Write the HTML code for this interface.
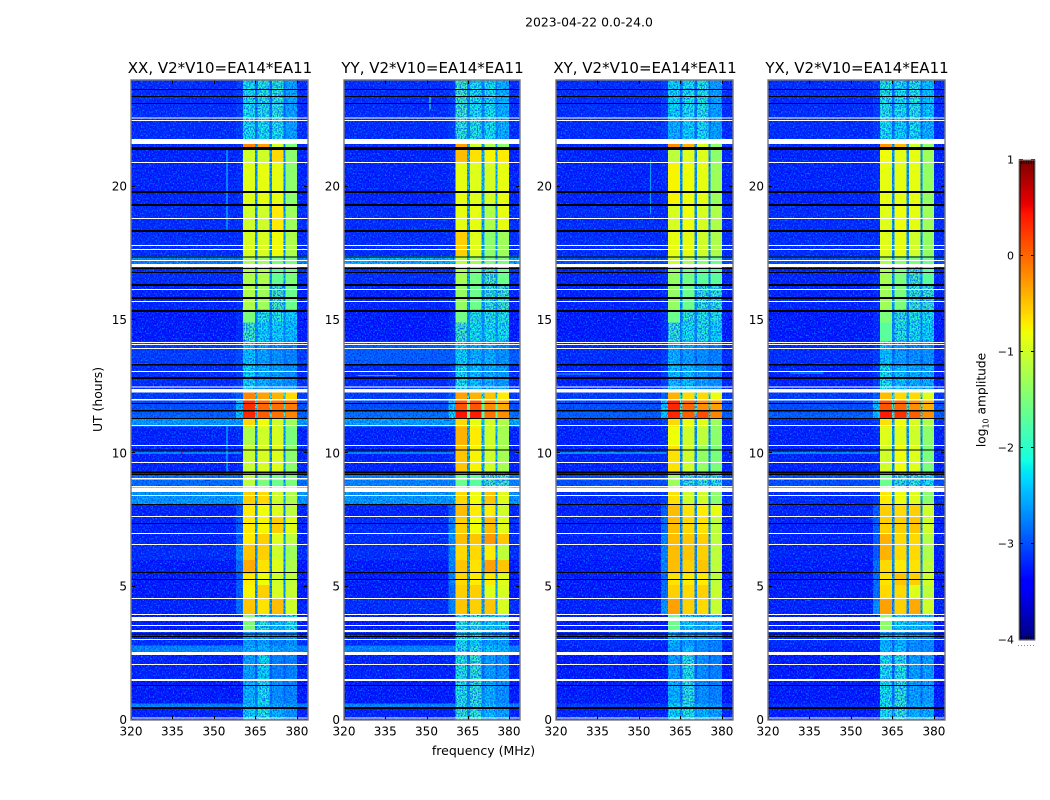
<!DOCTYPE html>
<html>
<head>
<meta charset="utf-8">
<title>2023-04-22 0.0-24.0</title>
<style>
html,body{margin:0;padding:0;background:#fff;}
svg{display:block;}
text{font-family:"DejaVu Sans","Liberation Sans",sans-serif;fill:#000;}
</style>
</head>
<body>
<svg id="fig" xmlns="http://www.w3.org/2000/svg" width="1050" height="800" viewBox="0 0 1050 800">
<defs>
<filter id="grain" x="0" y="0" width="1" height="1" filterUnits="objectBoundingBox" color-interpolation-filters="sRGB">
<feTurbulence type="fractalNoise" baseFrequency="0.75 0.6" numOctaves="1" seed="7" result="n"/>
<feColorMatrix in="n" type="matrix" values="0 0 0 0 0  0 0 0 0 0.55  0 0 0 0 1  3 0 0 0 -1.4" result="lite"/>
<feColorMatrix in="n" type="matrix" values="0 0 0 0 0  0 0 0 0 0  0 0 0 0 0.9  0 2.5 0 0 -1.2" result="dark"/>
<feComposite in="lite" in2="SourceAlpha" operator="in" result="liteIn"/>
<feComposite in="dark" in2="SourceAlpha" operator="in" result="darkIn"/>
<feMerge><feMergeNode in="SourceGraphic"/><feMergeNode in="liteIn"/><feMergeNode in="darkIn"/></feMerge>
</filter>
<filter id="grainMid" x="0" y="0" width="1" height="1" filterUnits="objectBoundingBox" color-interpolation-filters="sRGB">
<feTurbulence type="fractalNoise" baseFrequency="0.75 0.6" numOctaves="1" seed="11" result="n"/>
<feColorMatrix in="n" type="matrix" values="0 0 0 0 0.1  0 0 0 0 1  0 0 0 0 0.9  1.8 0 0 0 -0.9" result="lite"/>
<feColorMatrix in="n" type="matrix" values="0 0 0 0 0  0 0 0 0 0.3  0 0 0 0 1  0 3 0 0 -1.15" result="dark"/>
<feComposite in="lite" in2="SourceAlpha" operator="in" result="liteIn"/>
<feComposite in="dark" in2="SourceAlpha" operator="in" result="darkIn"/>
<feMerge><feMergeNode in="SourceGraphic"/><feMergeNode in="darkIn"/><feMergeNode in="liteIn"/></feMerge>
</filter>
</defs>
<text x="589" y="26.5" font-size="12.4" text-anchor="middle">2023-04-22 0.0-24.0</text>
<text x="483.5" y="755" font-size="12.5" text-anchor="middle">frequency (MHz)</text>
<text transform="translate(102,399.5) rotate(-90)" font-size="12.4" text-anchor="middle">UT (hours)</text>
<text transform="translate(985.5,400) rotate(-90)" font-size="12.2" text-anchor="middle">log<tspan font-size="8" dy="3">10</tspan><tspan dy="-3"> amplitude</tspan></text>
<g id="panels"></g>
<g id="cbar"></g>
</svg>
<script>
// ---- chart data ----
const panelNames = ["XX", "YY", "XY", "YX"];
const panelSuffix = ", V2*V10=EA14*EA11";
const xTicks = [320, 335, 350, 365, 380];
const yTicks = [0, 5, 10, 15, 20];
const cbTicks = [1, 0, -1, -2, -3, -4];
// frequency channel-group edges (MHz)
const freqEdges = [320, 358, 360.5, 364.8, 365.8, 370, 371, 375.1, 375.8, 380, 384];
// which value of a row each frequency group uses: bg, fringe, b1, gap, b2, gap, b3, gap, b4, bg
const groupOfColumn = [0, 1, 2, 6, 3, 6, 4, 6, 5, 0];
// UT segment edges (hours)
const timeEdges = [0,.48,.62,1.5,2.44,2.8,3.3,3.95,4.54,5.06,5.5,6,6.56,7,7.6,8.06,8.75,9.3,10.3,11,11.3,11.6,12,12.3,13.3,14.2,14.9,15.4,16.35,17,17.4,18.3,19.3,20.9,21.4,21.6,22.5,24];
// log10 amplitude per UT segment: [bg, fringe, band1, band2, band3, band4, gap]
const valuesXX = [
[-3.25,-3.25,-2.2,-2.0,-2.4,-2.6,-2.6],[-2.7,-2.7,-2.3,-2.2,-2.4,-2.5,-2.5],[-3.3,-3.3,-2.4,-2.1,-2.6,-2.7,-2.8],[-3.25,-3.25,-2.5,-2.2,-2.7,-2.7,-2.9],
[-2.7,-2.7,-2.4,-2.4,-2.5,-2.5,-2.6],[-3.2,-3.2,-2.5,-2.5,-2.7,-2.6,-2.8],[-3.3,-3.3,-1.5,-2.0,-2.3,-2.1,-2.5],[-3.25,-2.8,-0.5,-0.65,-0.45,-1.0,-2.6],
[-3.3,-2.9,-0.75,-0.55,-0.95,-1.05,-2.6],[-3.3,-2.9,-0.7,-0.8,-1.0,-1.1,-2.6],[-3.3,-2.8,-0.35,-0.65,-0.9,-1.2,-2.6],[-3.2,-2.7,-0.5,-0.55,-1.0,-1.3,-2.6],
[-3.25,-2.9,-0.7,-0.55,-0.9,-1.1,-2.6],[-3.25,-2.9,-0.7,-0.75,-0.55,-0.9,-2.5],[-3.25,-3.0,-0.7,-0.8,-0.9,-1.1,-2.6],[-2.55,-2.5,-0.55,-0.6,-1.0,-1.2,-2.4],
[-2.8,-2.8,-1.1,-1.5,-1.6,-1.5,-2.5],[-3.25,-3.2,-1.05,-0.95,-0.9,-1.4,-2.6],[-3.25,-3.2,-1.2,-1.0,-0.95,-1.5,-2.6],[-2.55,-2.5,-0.6,-0.8,-1.0,-1.3,-2.4],
[-2.9,-2.3,0.35,0.05,-0.05,-0.15,-1.8],[-3.0,-2.4,0.3,0.0,-0.05,-0.1,-1.8],[-3.1,-2.9,-0.15,-0.3,-0.4,-0.6,-2.0],[-3.2,-3.1,-2.2,-2.4,-2.5,-2.6,-2.7],
[-3.1,-3.0,-2.3,-2.5,-2.6,-2.7,-2.8],[-3.3,-3.2,-1.8,-2.2,-2.2,-2.3,-2.7],[-3.3,-3.2,-1.5,-2.0,-2.0,-2.2,-2.7],[-3.25,-3.2,-1.2,-1.3,-1.75,-1.6,-2.6],
[-3.2,-3.2,-1.2,-1.2,-1.65,-1.5,-2.5],[-2.7,-2.7,-1.2,-1.3,-1.5,-1.5,-2.3],[-3.2,-3.2,-0.95,-0.95,-0.8,-1.2,-2.6],[-3.2,-3.2,-1.0,-1.0,-0.7,-1.3,-2.6],
[-3.25,-3.2,-0.9,-0.85,-0.85,-1.4,-2.6],[-3.25,-3.2,-1.0,-1.0,-0.6,-1.4,-2.6],[-3.2,-3.2,-0.15,-0.3,-1.0,-1.5,-2.6],[-3.2,-3.1,-2.1,-2.1,-2.05,-2.5,-2.8],
[-3.2,-3.1,-2.1,-2.0,-1.95,-2.5,-2.8]];
const valuesYY = [
[-3.25,-3.25,-1.9,-1.9,-2.3,-2.5,-2.6],[-2.7,-2.7,-2.0,-2.0,-2.3,-2.5,-2.5],[-3.3,-3.3,-2.0,-1.9,-2.4,-2.6,-2.7],[-3.25,-3.25,-2.0,-1.9,-2.5,-2.6,-2.8],
[-2.7,-2.7,-2.0,-2.0,-2.3,-2.4,-2.5],[-3.2,-3.2,-2.1,-2.2,-2.5,-2.5,-2.7],[-3.3,-3.3,-2.0,-1.9,-2.2,-2.2,-2.5],[-3.2,-2.7,-0.5,-0.55,-0.5,-0.95,-2.5],
[-3.3,-2.8,-0.55,-0.55,-0.9,-0.95,-2.5],[-3.3,-2.7,-0.6,-0.7,-0.7,-0.9,-2.5],[-3.3,-2.7,-0.5,-0.65,-0.3,-0.5,-2.5],[-3.2,-2.7,-0.6,-0.6,-0.7,-1.1,-2.5],
[-3.2,-2.6,-0.45,-0.5,-0.25,-0.5,-2.5],[-3.2,-2.7,-0.55,-0.8,-0.45,-0.9,-2.5],[-3.25,-2.9,-0.45,-0.7,-0.7,-1.0,-2.5],[-2.55,-2.5,-0.6,-0.8,-0.5,-0.9,-2.4],
[-2.7,-2.7,-1.6,-1.7,-1.8,-1.8,-2.4],[-3.25,-3.2,-0.5,-0.75,-1.0,-1.25,-2.4],[-3.25,-3.2,-0.4,-0.7,-1.0,-1.25,-2.4],[-2.5,-2.5,-0.6,-0.85,-1.0,-1.2,-2.3],
[-2.8,-2.2,0.45,0.4,-0.05,-0.2,-1.7],[-3.0,-2.3,0.1,0.1,-0.2,-0.35,-1.7],[-3.1,-2.9,-0.3,-0.4,-0.5,-0.7,-2.0],[-3.2,-3.1,-2.1,-2.3,-2.4,-2.5,-2.7],
[-2.9,-2.9,-2.2,-2.4,-2.4,-2.6,-2.7],[-3.3,-3.2,-1.8,-2.1,-2.1,-2.1,-2.6],[-3.3,-3.2,-1.55,-2.0,-2.0,-2.0,-2.6],[-3.25,-3.2,-1.35,-1.6,-1.9,-1.8,-2.6],
[-3.2,-3.2,-1.25,-1.55,-1.75,-1.6,-2.5],[-2.4,-2.4,-1.1,-1.3,-1.5,-1.5,-2.2],[-3.2,-3.2,-0.55,-0.9,-1.4,-1.3,-2.5],[-3.2,-3.2,-0.85,-0.85,-1.2,-0.85,-2.5],
[-3.25,-3.2,-0.85,-0.9,-0.95,-0.85,-2.4],[-3.25,-3.2,-0.45,-0.65,-0.75,-0.7,-2.4],[-3.2,-3.2,-0.3,-1.0,-1.2,-1.4,-2.5],[-3.2,-3.1,-1.9,-2.0,-2.1,-2.4,-2.7],
[-3.2,-3.1,-1.8,-2.1,-2.1,-2.4,-2.7]];
const valuesXY = [
[-3.25,-3.25,-2.2,-2.0,-2.4,-2.5,-2.6],[-3.1,-3.1,-2.2,-2.0,-2.4,-2.5,-2.6],[-3.3,-3.3,-2.4,-1.95,-2.6,-2.7,-2.8],[-3.3,-3.3,-2.5,-2.0,-2.6,-2.7,-2.9],
[-3.25,-3.25,-2.5,-2.3,-2.6,-2.7,-2.8],[-3.2,-3.2,-2.4,-2.5,-2.6,-2.7,-2.8],[-3.3,-3.3,-1.6,-2.2,-2.4,-2.3,-2.5],[-3.25,-2.6,-0.3,-0.55,-0.6,-1.05,-2.6],
[-3.3,-2.8,-0.55,-0.6,-0.55,-1.05,-2.6],[-3.3,-2.8,-0.65,-0.7,-0.7,-1.1,-2.6],[-3.3,-2.7,-0.45,-0.55,-0.5,-1.1,-2.6],[-3.25,-2.7,-0.45,-0.5,-0.55,-1.1,-2.6],
[-3.25,-2.7,-0.45,-0.5,-0.55,-1.1,-2.6],[-3.25,-2.8,-0.45,-0.6,-0.65,-1.1,-2.6],[-3.25,-2.9,-0.45,-0.65,-0.7,-0.85,-2.6],[-3.2,-3.1,-0.65,-1.0,-1.0,-1.4,-2.6],
[-3.0,-3.0,-1.3,-1.9,-1.9,-2.0,-2.6],[-3.25,-3.2,-0.65,-1.0,-1.35,-1.5,-2.6],[-3.25,-3.2,-0.8,-1.0,-1.1,-1.4,-2.6],[-3.2,-3.1,-0.6,-0.8,-0.9,-1.3,-2.5],
[-2.9,-2.3,0.35,0.05,0.15,-0.15,-1.8],[-3.0,-2.3,0.35,0.0,-0.2,-0.3,-1.8],[-3.1,-2.9,-0.4,-0.6,-0.6,-0.8,-2.0],[-3.25,-3.1,-2.3,-2.3,-2.5,-2.6,-2.7],
[-3.2,-3.1,-2.4,-2.5,-2.6,-2.7,-2.8],[-3.3,-3.2,-1.9,-2.1,-2.0,-2.2,-2.7],[-3.3,-3.2,-1.6,-1.9,-2.0,-2.0,-2.7],[-3.25,-3.2,-1.35,-1.6,-1.9,-1.9,-2.6],
[-3.25,-3.2,-1.35,-1.55,-1.7,-1.7,-2.6],[-3.0,-3.0,-1.0,-1.2,-1.4,-1.6,-2.4],[-3.2,-3.2,-0.85,-0.85,-1.0,-1.2,-2.6],[-3.2,-3.2,-0.95,-0.8,-0.95,-1.2,-2.6],
[-3.25,-3.2,-0.75,-0.8,-0.85,-1.3,-2.6],[-3.25,-3.2,-1.1,-0.9,-0.9,-1.4,-2.6],[-3.2,-3.2,-0.2,-0.4,-0.9,-1.4,-2.6],[-3.2,-3.1,-2.4,-2.2,-2.1,-2.5,-2.8],
[-3.2,-3.1,-2.2,-2.1,-2.0,-2.5,-2.8]];
const valuesYX = [
[-3.3,-3.3,-2.1,-1.9,-2.4,-2.4,-2.6],[-3.2,-3.2,-2.1,-1.9,-2.4,-2.4,-2.6],[-3.3,-3.3,-2.1,-1.95,-2.5,-2.5,-2.8],[-3.3,-3.3,-2.1,-2.0,-2.5,-2.5,-2.9],
[-3.25,-3.25,-2.3,-2.3,-2.6,-2.6,-2.8],[-3.2,-3.2,-2.4,-2.4,-2.6,-2.6,-2.8],[-3.3,-3.3,-1.4,-2.2,-2.3,-2.3,-2.5],[-3.25,-2.6,-0.3,-0.55,-0.35,-1.0,-2.6],
[-3.3,-2.8,-0.6,-0.6,-0.9,-1.1,-2.6],[-3.3,-2.8,-0.65,-0.5,-0.55,-1.0,-2.6],[-3.3,-2.8,-0.6,-0.7,-0.65,-1.1,-2.6],[-3.25,-2.9,-0.4,-0.6,-0.6,-1.2,-2.6],
[-3.25,-2.9,-0.4,-0.6,-0.6,-1.15,-2.6],[-3.25,-2.9,-0.55,-0.55,-0.5,-1.0,-2.6],[-3.25,-2.9,-0.55,-0.6,-0.55,-1.0,-2.6],[-3.2,-3.1,-0.7,-0.8,-0.9,-1.4,-2.6],
[-3.0,-3.0,-1.6,-1.9,-1.9,-2.1,-2.6],[-3.25,-3.2,-1.0,-0.8,-0.9,-1.5,-2.6],[-3.25,-3.2,-0.9,-0.9,-1.0,-1.4,-2.6],[-3.2,-3.1,-0.65,-0.8,-0.95,-1.2,-2.5],
[-2.9,-2.3,0.4,0.3,0.05,-0.2,-1.8],[-3.0,-2.3,0.1,0.0,-0.2,-0.4,-1.8],[-3.1,-2.9,-0.45,-0.6,-0.6,-0.9,-2.0],[-3.25,-3.1,-2.1,-2.3,-2.4,-2.4,-2.7],
[-3.2,-3.1,-2.3,-2.5,-2.6,-2.6,-2.8],[-3.3,-3.2,-1.7,-2.0,-2.1,-2.2,-2.7],[-3.3,-3.2,-1.5,-1.9,-2.0,-2.1,-2.7],[-3.25,-3.2,-1.3,-1.5,-1.85,-1.85,-2.6],
[-3.25,-3.2,-1.25,-1.5,-1.8,-1.7,-2.6],[-3.0,-3.0,-1.2,-1.4,-1.5,-1.6,-2.4],[-3.2,-3.2,-0.9,-0.85,-1.0,-1.35,-2.6],[-3.2,-3.2,-0.9,-0.8,-0.85,-1.3,-2.6],
[-3.25,-3.2,-0.85,-0.85,-0.85,-1.35,-2.6],[-3.25,-3.2,-0.8,-0.85,-0.85,-1.3,-2.6],[-3.2,-3.2,-0.25,-0.45,-1.0,-1.4,-2.6],[-3.2,-3.1,-2.1,-2.2,-2.1,-2.4,-2.8],
[-3.2,-3.1,-2.0,-2.1,-2.0,-2.3,-2.8]];
const panelValues = [valuesXX, valuesYY, valuesXY, valuesYX];
// flagged (blank) UT intervals, hours
const flagWhite = [[.06,.10],[1.47,1.53],[2.06,2.10],[2.44,2.55],[3.0,3.04],[3.3,3.375],[3.525,3.56],[3.71,3.86],[3.93,3.97],[4.54,4.575],[6.56,6.6],[6.975,7.01],[7.61,7.65],[8.40,8.44],[8.55,8.72],[8.74,8.775],[9.02,9.075],[9.64,9.675],[10.275,10.31],[11.025,11.06],[11.99,12.04],[12.29,12.41],[12.47,12.51],[13.05,13.09],[13.91,13.95],[14.06,14.1],[14.14,14.175],[15.68,15.71],[16.125,16.16],[16.99,17.1],[17.21,17.25],[17.625,17.66],[17.77,17.81],[18.79,18.825],[20.89,20.925],[21.6,21.79],[22.46,22.5],[22.55,22.59]];
const flagBlack = [[.42,.48],[1.275,1.31],[3.11,3.15],[3.2,3.24],[5.25,5.29],[5.51,5.55],[7.35,7.39],[8.06,8.1],[9.19,9.24],[9.27,9.31],[10.11,10.14],[11.29,11.325],[11.56,11.625],[11.85,11.89],[12.795,12.86],[13.29,13.35],[15.3,15.375],[15.795,15.86],[16.28,16.35],[16.76,16.8],[16.91,16.95],[17.34,17.38],[18.3,18.375],[19.275,19.35],[19.77,19.84],[21.375,21.49],[23.1,23.14],[23.36,23.4],[23.625,23.66]];
// narrow interference: [panel index, f0, f1, h0, h1, log10 amplitude]
const spurs = [
[0,354.6,354.9,18.4,21.4,-2.3],[0,354.6,354.9,9.3,11.0,-2.3],[0,320,360,10.0,10.04,-2.3],[0,338,339,10.0,10.04,0.3],
[1,320,360,10.0,10.04,-2.3],[1,351,351.3,22.9,23.4,-2.0],[1,325,339,12.9,12.94,-2.5],
[2,320,360,10.0,10.04,-2.2],[2,354,354.3,19.0,21.0,-2.6],[2,320,336,12.95,12.99,-2.5],
[3,320,360,10.0,10.04,-2.3],[3,328,340,13.0,13.04,-2.4]];
// ---- layout ----
const plotTop = 80, plotBottom = 720;
const panelLeft = [131, 344, 556, 768];
const panelRight = [308, 520, 733, 945];
const xMin = 320, xMax = 384, yMin = 0, yMax = 24;
const cbLeft = 1019, cbRight = 1035, cbTop = 160, cbBottom = 640, vMin = -4, vMax = 1;
const NS = "http://www.w3.org/2000/svg";
function xScale(p, f){ return panelLeft[p] + (f - xMin) / (xMax - xMin) * (panelRight[p] - panelLeft[p]); }
function yScale(h){ return plotBottom - (h - yMin) / (yMax - yMin) * (plotBottom - plotTop); }
function cbScale(v){ return cbBottom - (v - vMin) / (vMax - vMin) * (cbBottom - cbTop); }
function interp(t, pts){
  for (let i = 1; i < pts.length; i++) {
    if (t <= pts[i][0]) { const a = pts[i-1], b = pts[i]; return a[1] + (b[1]-a[1]) * (t-a[0]) / (b[0]-a[0]); }
  }
  return pts[pts.length-1][1];
}
function jet(t){
  t = Math.max(0, Math.min(1, t));
  const r = interp(t, [[0,0],[.35,0],[.66,1],[.89,1],[1,.5]]);
  const g = interp(t, [[0,0],[.125,0],[.375,1],[.64,1],[.91,0],[1,0]]);
  const b = interp(t, [[0,.5],[.11,1],[.34,1],[.65,0],[1,0]]);
  return "rgb(" + Math.round(r*255) + "," + Math.round(g*255) + "," + Math.round(b*255) + ")";
}
function colorOf(v){ return jet((v - vMin) / (vMax - vMin)); }
function make(parent, tag, attrs){
  const el = document.createElementNS(NS, tag);
  for (const k in attrs) el.setAttribute(k, attrs[k]);
  parent.appendChild(el);
  return el;
}
const panelsRoot = document.getElementById("panels");
panelNames.forEach(function(name, p){
  const g = make(panelsRoot, "g", {});
  
  
  const L = panelLeft[p], R = panelRight[p];
  const faint = make(g, "g", {filter: "url(#grain)", "shape-rendering": "crispEdges"});
  
  
  const mid = make(g, "g", {filter: "url(#grainMid)", "shape-rendering": "crispEdges"});
  
  
  const bright = make(g, "g", {"shape-rendering": "crispEdges"});
  
  
  panelValues[p].forEach(function(row, r){
    groupOfColumn.forEach(function(col, c){
      const v = row[col];
      const x0 = xScale(p, freqEdges[c]), x1 = xScale(p, freqEdges[c+1]);
      const y1 = yScale(timeEdges[r]), y0 = yScale(timeEdges[r+1]);
      const cell = make(v < -2.75 ? faint : (v < -1.7 ? mid : bright), "rect", {x: x0, y: y0, width: x1-x0, height: y1-y0, fill: colorOf(v)});
      
      
    });
  });
  spurs.forEach(function(s){
    if (s[0] !== p) return;
    const x0 = xScale(p, s[1]), x1 = xScale(p, s[2]);
    const y1 = yScale(s[3]), y0 = yScale(s[4]);
    const sp = make(g, "rect", {x: x0, y: y0, width: Math.max(1, x1-x0), height: Math.max(1, y1-y0), fill: colorOf(s[5]), "shape-rendering": "crispEdges"});
    
    
  });
  flagBlack.forEach(function(f){
    const y0 = yScale(f[1]), y1 = yScale(f[0]);
    const fl = make(g, "rect", {x: L, y: y0, width: R-L, height: Math.max(1, y1-y0), fill: "#000", "shape-rendering": "crispEdges"});
    
    
  });
  flagWhite.forEach(function(f){
    const y0 = yScale(f[1]), y1 = yScale(f[0]);
    const fl = make(g, "rect", {x: L, y: y0, width: R-L, height: Math.max(1, y1-y0), fill: "#fff", "shape-rendering": "crispEdges"});
    
    
  });
  xTicks.forEach(function(t){
    const x = Math.round(xScale(p, t)) + .5;
    const a = make(g, "line", {x1: x, x2: x, y1: plotBottom, y2: plotBottom-4, stroke: "#000", "stroke-width": 1});
    
    
    const b = make(g, "line", {x1: x, x2: x, y1: plotTop, y2: plotTop+4, stroke: "#000", "stroke-width": 1});
    
    
    const lab = make(g, "text", {x: xScale(p, t), y: 735.5, "font-size": 12, "text-anchor": "middle"});
    
    
    lab.textContent = t;
  });
  yTicks.forEach(function(t){
    const y = Math.round(yScale(t)) - .5;
    const a = make(g, "line", {x1: L, x2: L+4, y1: y, y2: y, stroke: "#000", "stroke-width": 1});
    
    
    const b = make(g, "line", {x1: R, x2: R-4, y1: y, y2: y, stroke: "#000", "stroke-width": 1});
    
    
    const lab = make(g, "text", {x: L-4, y: yScale(t)+4, "font-size": 12, "text-anchor": "end"});
    
    
    lab.textContent = t;
  });
  const frame = make(g, "rect", {x: L, y: plotTop, width: R-L, height: plotBottom-plotTop, fill: "none", stroke: "#777", "stroke-width": 1.4});
  
  
  const title = make(g, "text", {x: (L+R)/2 + 0.5, y: 73, "font-size": 15, "text-anchor": "middle"});
  
  
  title.textContent = name + panelSuffix;
});
// colorbar
const cb = document.getElementById("cbar");
const cbSteps = 255;
for (let i = 0; i < cbSteps; i++) {
  const v0 = vMin + (vMax - vMin) * i / cbSteps;
  const v1 = vMin + (vMax - vMin) * (i + 1) / cbSteps;
  const seg = make(cb, "rect", {x: cbLeft, y: cbScale(v1), width: cbRight-cbLeft, height: cbScale(v0)-cbScale(v1)+.6, fill: colorOf((v0+v1)/2)});
  
  
}
cbTicks.forEach(function(t){
  const y = Math.round(cbScale(t)) - .5;
  const a = make(cb, "line", {x1: cbLeft, x2: cbLeft+4, y1: y, y2: y, stroke: "#000"});
  
  
  const b = make(cb, "line", {x1: cbRight-4, x2: cbRight, y1: y, y2: y, stroke: "#000"});
  
  
  const lab = make(cb, "text", {x: cbLeft-5, y: cbScale(t)+3.5, "font-size": 11, "text-anchor": "end"});
  
  
  lab.textContent = String(t).replace("-", "\u2212");
});
for (let x = cbLeft + 2.5; x < cbRight - 1; x += 2.4) {
  const top = make(cb, "line", {x1: x, x2: x, y1: cbTop, y2: cbTop+4, stroke: "#000", "stroke-width": .8});
  
  
  const bot = make(cb, "line", {x1: x, x2: x, y1: cbBottom, y2: cbBottom-4, stroke: "#000", "stroke-width": .8});
  
  
}
const edgeL = make(cb, "line", {x1: cbLeft+1, x2: cbLeft+1, y1: cbTop, y2: cbBottom, stroke: "#000", "stroke-width": 1});


const edgeR = make(cb, "line", {x1: cbRight-1, x2: cbRight-1, y1: cbTop, y2: cbBottom, stroke: "#000", "stroke-width": 1});


const cbFrame = make(cb, "rect", {x: cbLeft, y: cbTop, width: cbRight-cbLeft, height: cbBottom-cbTop, fill: "none", stroke: "#888", "stroke-width": 1});


const dots = make(cb, "line", {x1: cbLeft-1, x2: cbRight, y1: 645.5, y2: 645.5, stroke: "#888", "stroke-width": 1, "stroke-dasharray": "1 2"});


</script>
</body>
</html>
